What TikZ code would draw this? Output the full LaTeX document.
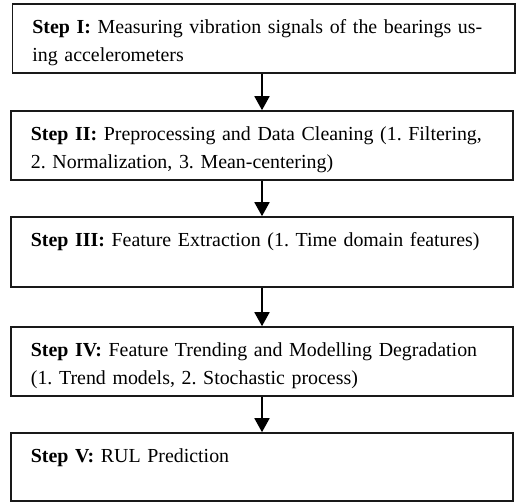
\documentclass[tikz,border=0pt]{standalone}
\usepackage{fontspec}
\setmainfont{Liberation Serif}
\frenchspacing
\usetikzlibrary{arrows.meta,positioning}
\tikzset{
  stepbox/.style={draw=black!90, line width=1.6pt, minimum height=69pt, inner sep=0pt},
  steptext/.style={inner sep=0pt, anchor=north west, align=left, text width=480pt,
    font=\fontsize{19.9pt}{28.5pt}\selectfont},
  arr/.style={line width=1.8pt, -{Triangle[width=15pt,length=14pt]}}
}
\newcommand{\firststrut}{\rule{0pt}{20pt}}
\begin{document}
\begin{tikzpicture}[x=1pt,y=1pt]
\useasboundingbox (0,0) rectangle (517,-502);
\node[stepbox, minimum width=502.5pt] (b1) at (263.75,-38.5) {};
\node[stepbox, minimum width=502pt] (b2) at (262,-145.5) {};
\node[stepbox, minimum width=502pt, minimum height=70pt] (b3) at (262,-252) {};
\node[stepbox, minimum width=502pt] (b4) at (262,-361.5) {};
\node[stepbox, minimum width=502pt, minimum height=68pt] (b5) at (262,-467) {};
\node[steptext, below right=10pt and 20.5pt of b1.north west] (t1) {\firststrut\textbf{Step I:} Measuring vibration signals of the bearings us-\\ing accelerometers};
\node[steptext, below right=10pt and 20.5pt of b2.north west] (t2) {\firststrut\textbf{Step II:} Preprocessing and Data Cleaning (1. Filtering,\\2. Normalization, 3. Mean-centering)};
\node[steptext, below right=10pt and 20.5pt of b3.north west] (t3) {\firststrut\textbf{Step III:} Feature Extraction (1. Time domain features)};
\node[steptext, below right=10pt and 20.5pt of b4.north west] (t4) {\firststrut\textbf{Step IV:} Feature Trending and Modelling Degradation\\(1. Trend models, 2. Stochastic process)};
\node[steptext, below right=10pt and 20.5pt of b5.north west] (t5) {\firststrut\textbf{Step V:} RUL Prediction};
\draw[arr] (b1.south -| b2.north) -- (b2.north);
\draw[arr] (b2.south) -- (b3.north);
\draw[arr] (b3.south) -- (b4.north);
\draw[arr] (b4.south) -- (b5.north);
\end{tikzpicture}
\end{document}
